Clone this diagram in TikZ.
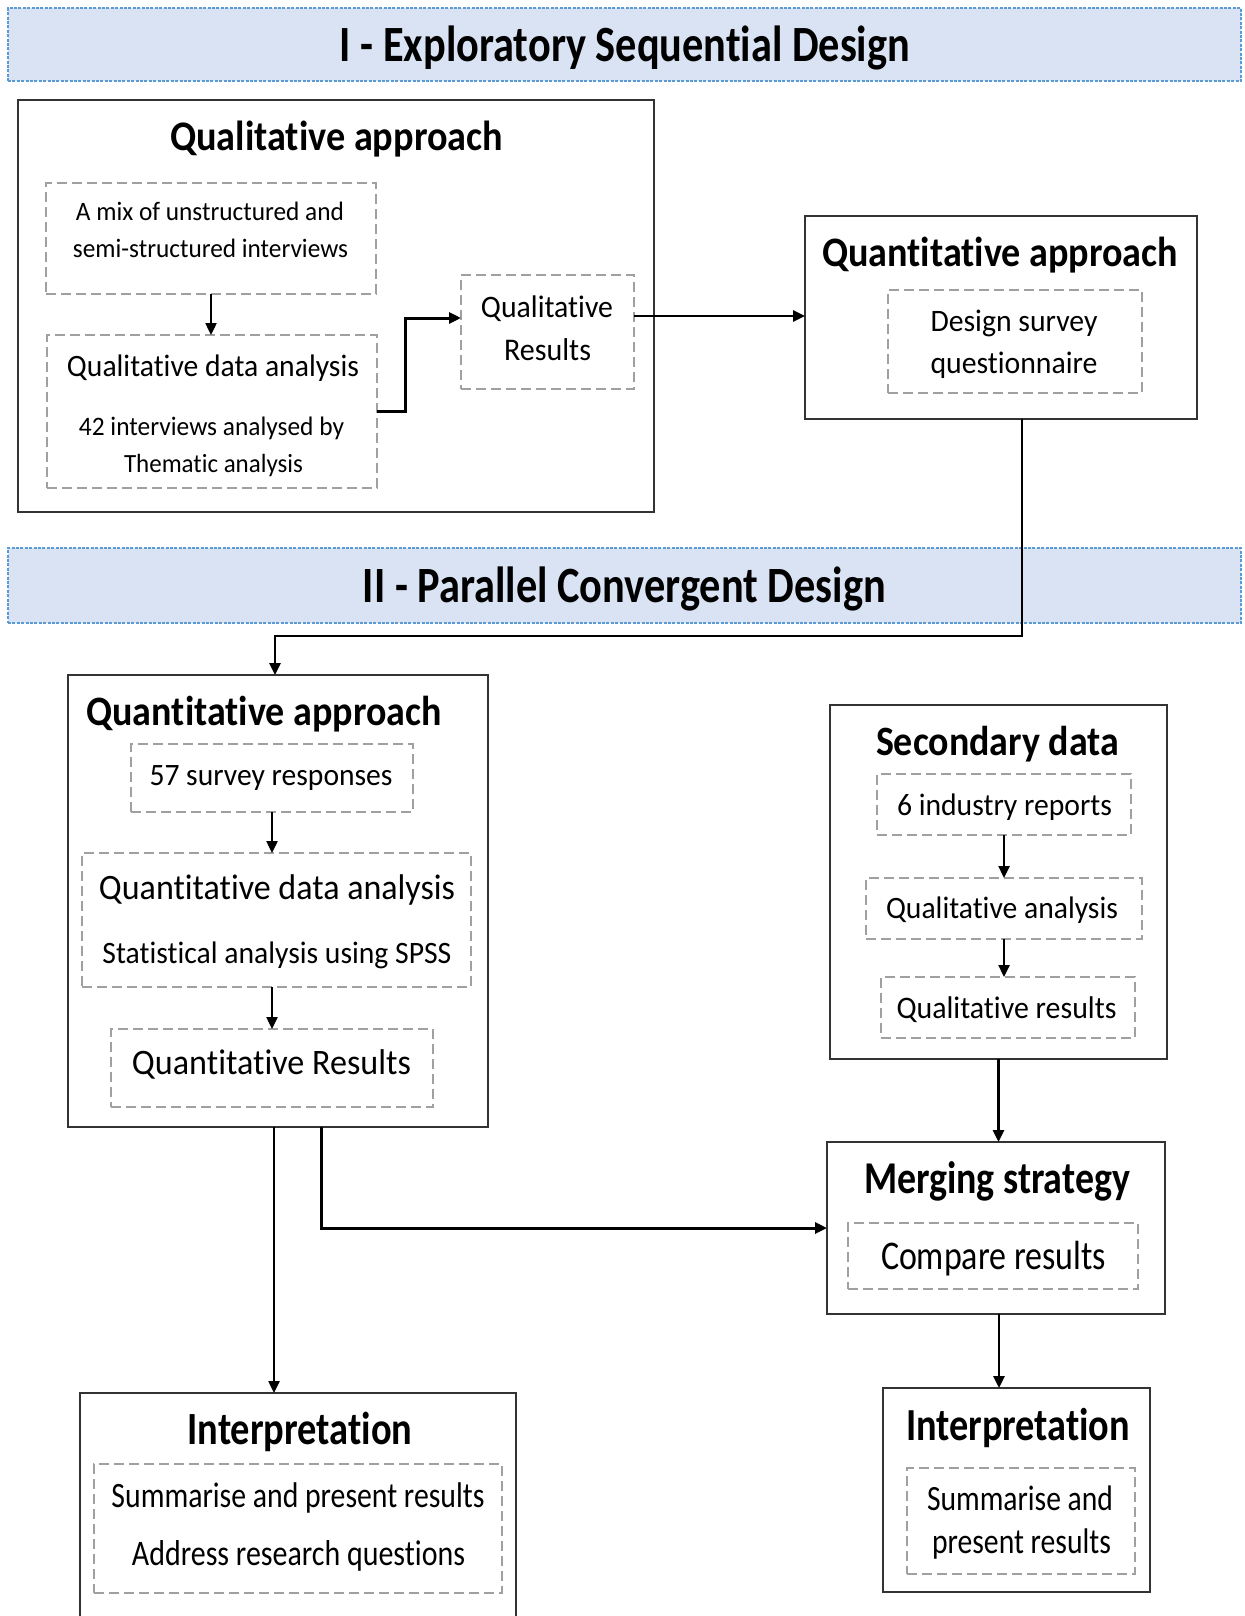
\documentclass[tikz,border=0pt]{standalone}
\usepackage{fontspec}
\setmainfont{Carlito}[Ligatures=NoCommon]
\usepackage{graphicx}
\usetikzlibrary{arrows.meta}
\definecolor{bannerfill}{HTML}{DAE3F3}
\definecolor{bannerline}{HTML}{5B9BD5}
\definecolor{dashgray}{HTML}{A0A0A0}
\definecolor{boxline}{HTML}{333333}
\newdimen\pxu \pxu=0.5pt
\newcommand\tx[3]{\scalebox{1}[#2]{\resizebox{#1\pxu}{!}{\strut #3}}}
\begin{document}
\begin{tikzpicture}[x=0.5pt,y=-0.5pt,
  banner/.style={draw=bannerline, fill=bannerfill, dash pattern=on 1.5pt off 0.7pt, line width=0.8pt, inner sep=0pt, outer sep=0pt},
  solidbox/.style={draw=boxline, line width=1.2pt, fill=white, inner sep=0pt, outer sep=0pt},
  dashbox/.style={draw=dashgray, line width=0.9pt, dash pattern=on 5pt off 2.5pt, inner sep=0pt, outer sep=0pt},
  txt/.style={inner sep=0pt, outer sep=0pt, yshift=-1.5pt},
  arr/.style={draw=black, line width=1.2pt, -{Triangle[length=6pt,width=5.5pt]}},
  ]
\useasboundingbox (0,0) rectangle (1244,1616);
\clip (0,0) rectangle (1244,1616);

% ---------- Banner I ----------
\node[banner, minimum width=616.5pt, minimum height=36.5pt] (banI) at (624.5,44.5) {};
\node[txt] (banIt) at (625,46) {\tx{570}{1.2}{\bfseries I - Exploratory Sequential Design}};

% ---------- Qualitative approach ----------
\node[solidbox, minimum width=318pt, minimum height=206pt] (qualA) at (336,306) {};
\node[txt] (qualAt) at (336.5,137) {\tx{333}{1.1}{\bfseries Qualitative approach}};
\node[dashbox, minimum width=165pt, minimum height=55.5pt] (mix) at (211,238.5) {};
\node[txt] (mix1) at (210,211) {\tx{268}{1.05}{A mix of unstructured and}};
\node[txt] (mix2) at (210.5,248) {\tx{275}{1.05}{semi-structured interviews}};
\node[dashbox, minimum width=165pt, minimum height=76.5pt] (qda) at (212,411.5) {};
\node[txt] (qda1) at (213,366) {\tx{292}{1.05}{Qualitative data analysis}};
\node[txt] (qda2) at (211.5,426) {\tx{265}{1.05}{42 interviews analysed by}};
\node[txt] (qda3) at (213.5,463) {\tx{179}{1.05}{Thematic analysis}};
\node[dashbox, minimum width=86.5pt, minimum height=57pt] (qres) at (547.5,332) {};
\node[txt] (qres1) at (547,307) {\tx{132}{1.05}{Qualitative}};
\node[txt] (qres2) at (547.5,350) {\tx{87}{1.05}{Results}};

% ---------- Quantitative approach (top) ----------
\node[solidbox, minimum width=196pt, minimum height=101.5pt] (quantA) at (1001,317.5) {};
\node[txt] (quantAt) at (1000,253) {\tx{356}{1.1}{\bfseries Quantitative approach}};
\node[dashbox, minimum width=127pt, minimum height=51.5pt] (design) at (1015,341.5) {};
\node[txt] (design1) at (1014,321) {\tx{167}{1.05}{Design survey}};
\node[txt] (design2) at (1014,363) {\tx{167}{1.05}{questionnaire}};

% ---------- Banner II ----------
\node[banner, minimum width=616.5pt, minimum height=37.5pt] (banII) at (624.5,585.5) {};
\node[txt] (banIIt) at (624.5,587) {\tx{523}{1.2}{\bfseries II - Parallel Convergent Design}};

% ---------- Quantitative approach (bottom) ----------
\node[solidbox, minimum width=210pt, minimum height=226pt] (quantB) at (278,901) {};
\node[txt] (quantBt) at (264,712) {\tx{355}{1.1}{\bfseries Quantitative approach}};
\node[dashbox, minimum width=141pt, minimum height=34pt] (survey) at (272,778) {};
\node[txt] (survey1) at (271,775) {\tx{243}{1.05}{57 survey responses}};
\node[dashbox, minimum width=194.5pt, minimum height=67pt] (qtda) at (276.5,920) {};
\node[txt] (qtda1) at (277,888) {\tx{356}{1.05}{Quantitative data analysis}};
\node[txt] (qtda2) at (277,953) {\tx{349}{1.05}{Statistical analysis using SPSS}};
\node[dashbox, minimum width=161pt, minimum height=39pt] (qtres) at (272,1068) {};
\node[txt] (qtres1) at (271.5,1063) {\tx{279}{1.05}{Quantitative Results}};

% ---------- Secondary data ----------
\node[solidbox, minimum width=168.5pt, minimum height=177pt] (secd) at (998.5,882) {};
\node[txt] (secdt) at (997.5,742) {\tx{243}{1.1}{\bfseries Secondary data}};
\node[dashbox, minimum width=127pt, minimum height=30.5pt] (ind) at (1004,804.5) {};
\node[txt] (ind1) at (1004.5,805) {\tx{215}{1.05}{6 industry reports}};
\node[dashbox, minimum width=138pt, minimum height=30.5pt] (qan) at (1004,908.5) {};
\node[txt] (qan1) at (1002,908) {\tx{232}{1.05}{Qualitative analysis}};
\node[dashbox, minimum width=127pt, minimum height=30.5pt] (qres3) at (1008,1007.5) {};
\node[txt] (qres31) at (1006.5,1008) {\tx{220}{1.05}{Qualitative results}};

% ---------- Merging strategy ----------
\node[solidbox, minimum width=169pt, minimum height=86pt] (merge) at (996,1228) {};
\node[txt] (merget) at (997,1180) {\tx{266}{1.2}{\bfseries Merging strategy}};
\node[dashbox, minimum width=145pt, minimum height=33pt] (compare) at (993,1256) {};
\node[txt] (compare1) at (993.5,1257) {\tx{225}{1.2}{Compare results}};

% ---------- Interpretation (right) ----------
\node[solidbox, minimum width=133.5pt, minimum height=102pt] (interpR) at (1016.5,1490) {};
\node[txt] (interpRt) at (1018,1426) {\tx{224}{1.2}{\bfseries Interpretation}};
\node[dashbox, minimum width=114pt, minimum height=53pt] (sumR) at (1021,1521) {};
\node[txt] (sumR1) at (1020,1499) {\tx{186}{1.2}{Summarise and}};
\node[txt] (sumR2) at (1021.5,1542) {\tx{179}{1.2}{present results}};

% ---------- Interpretation (left) ----------
\node[solidbox, minimum width=218pt, minimum height=123.5pt] (interpL) at (298,1516.5) {};
\node[txt] (interpLt) at (300,1430) {\tx{225}{1.2}{\bfseries Interpretation}};
\node[dashbox, minimum width=204pt, minimum height=64.5pt] (sumL) at (298,1528.5) {};
\node[txt] (sumL1) at (298,1496) {\tx{373}{1.2}{Summarise and present results}};
\node[txt] (sumL2) at (298.5,1554) {\tx{333}{1.2}{Address research questions}};

% ---------- Connectors ----------
\draw[arr] (mix.south) -- (mix.south |- qda.north);
\draw[arr, line width=1.5pt] (qda.east) -- ++(28,0) |- ([yshift=7pt]qres.west);
\coordinate (a2) at ([yshift=8pt]qres.east);
\draw[arr, line width=1.4pt] (a2) -- (a2 -| quantA.west);
\coordinate (j2) at (275,636);
\draw[arr, line width=1.4pt] ([xshift=10.5pt]quantA.south) |- (j2) -- (j2 |- quantB.north);
\draw[arr] (survey.south) -- (survey.south |- qtda.north);
\draw[arr] (qtres.north |- qtda.south) -- (qtres.north);
\coordinate (b1) at ([xshift=-2pt]quantB.south);
\draw[arr] (b1) -- (b1 |- interpL.north);
\draw[arr, line width=1.5pt] ([xshift=21.5pt]quantB.south) |- (merge.west);
\draw[arr] (ind.south) -- (ind.south |- qan.north);
\draw[arr] (qan.south) -- (qan.south |- qres3.north);
\draw[arr, line width=1.4pt] (secd.south) -- (secd.south |- merge.north);
\coordinate (m1) at ([xshift=1.5pt]merge.south);
\draw[arr, line width=1.4pt] (m1) -- (m1 |- interpR.north);
\end{tikzpicture}
\end{document}
